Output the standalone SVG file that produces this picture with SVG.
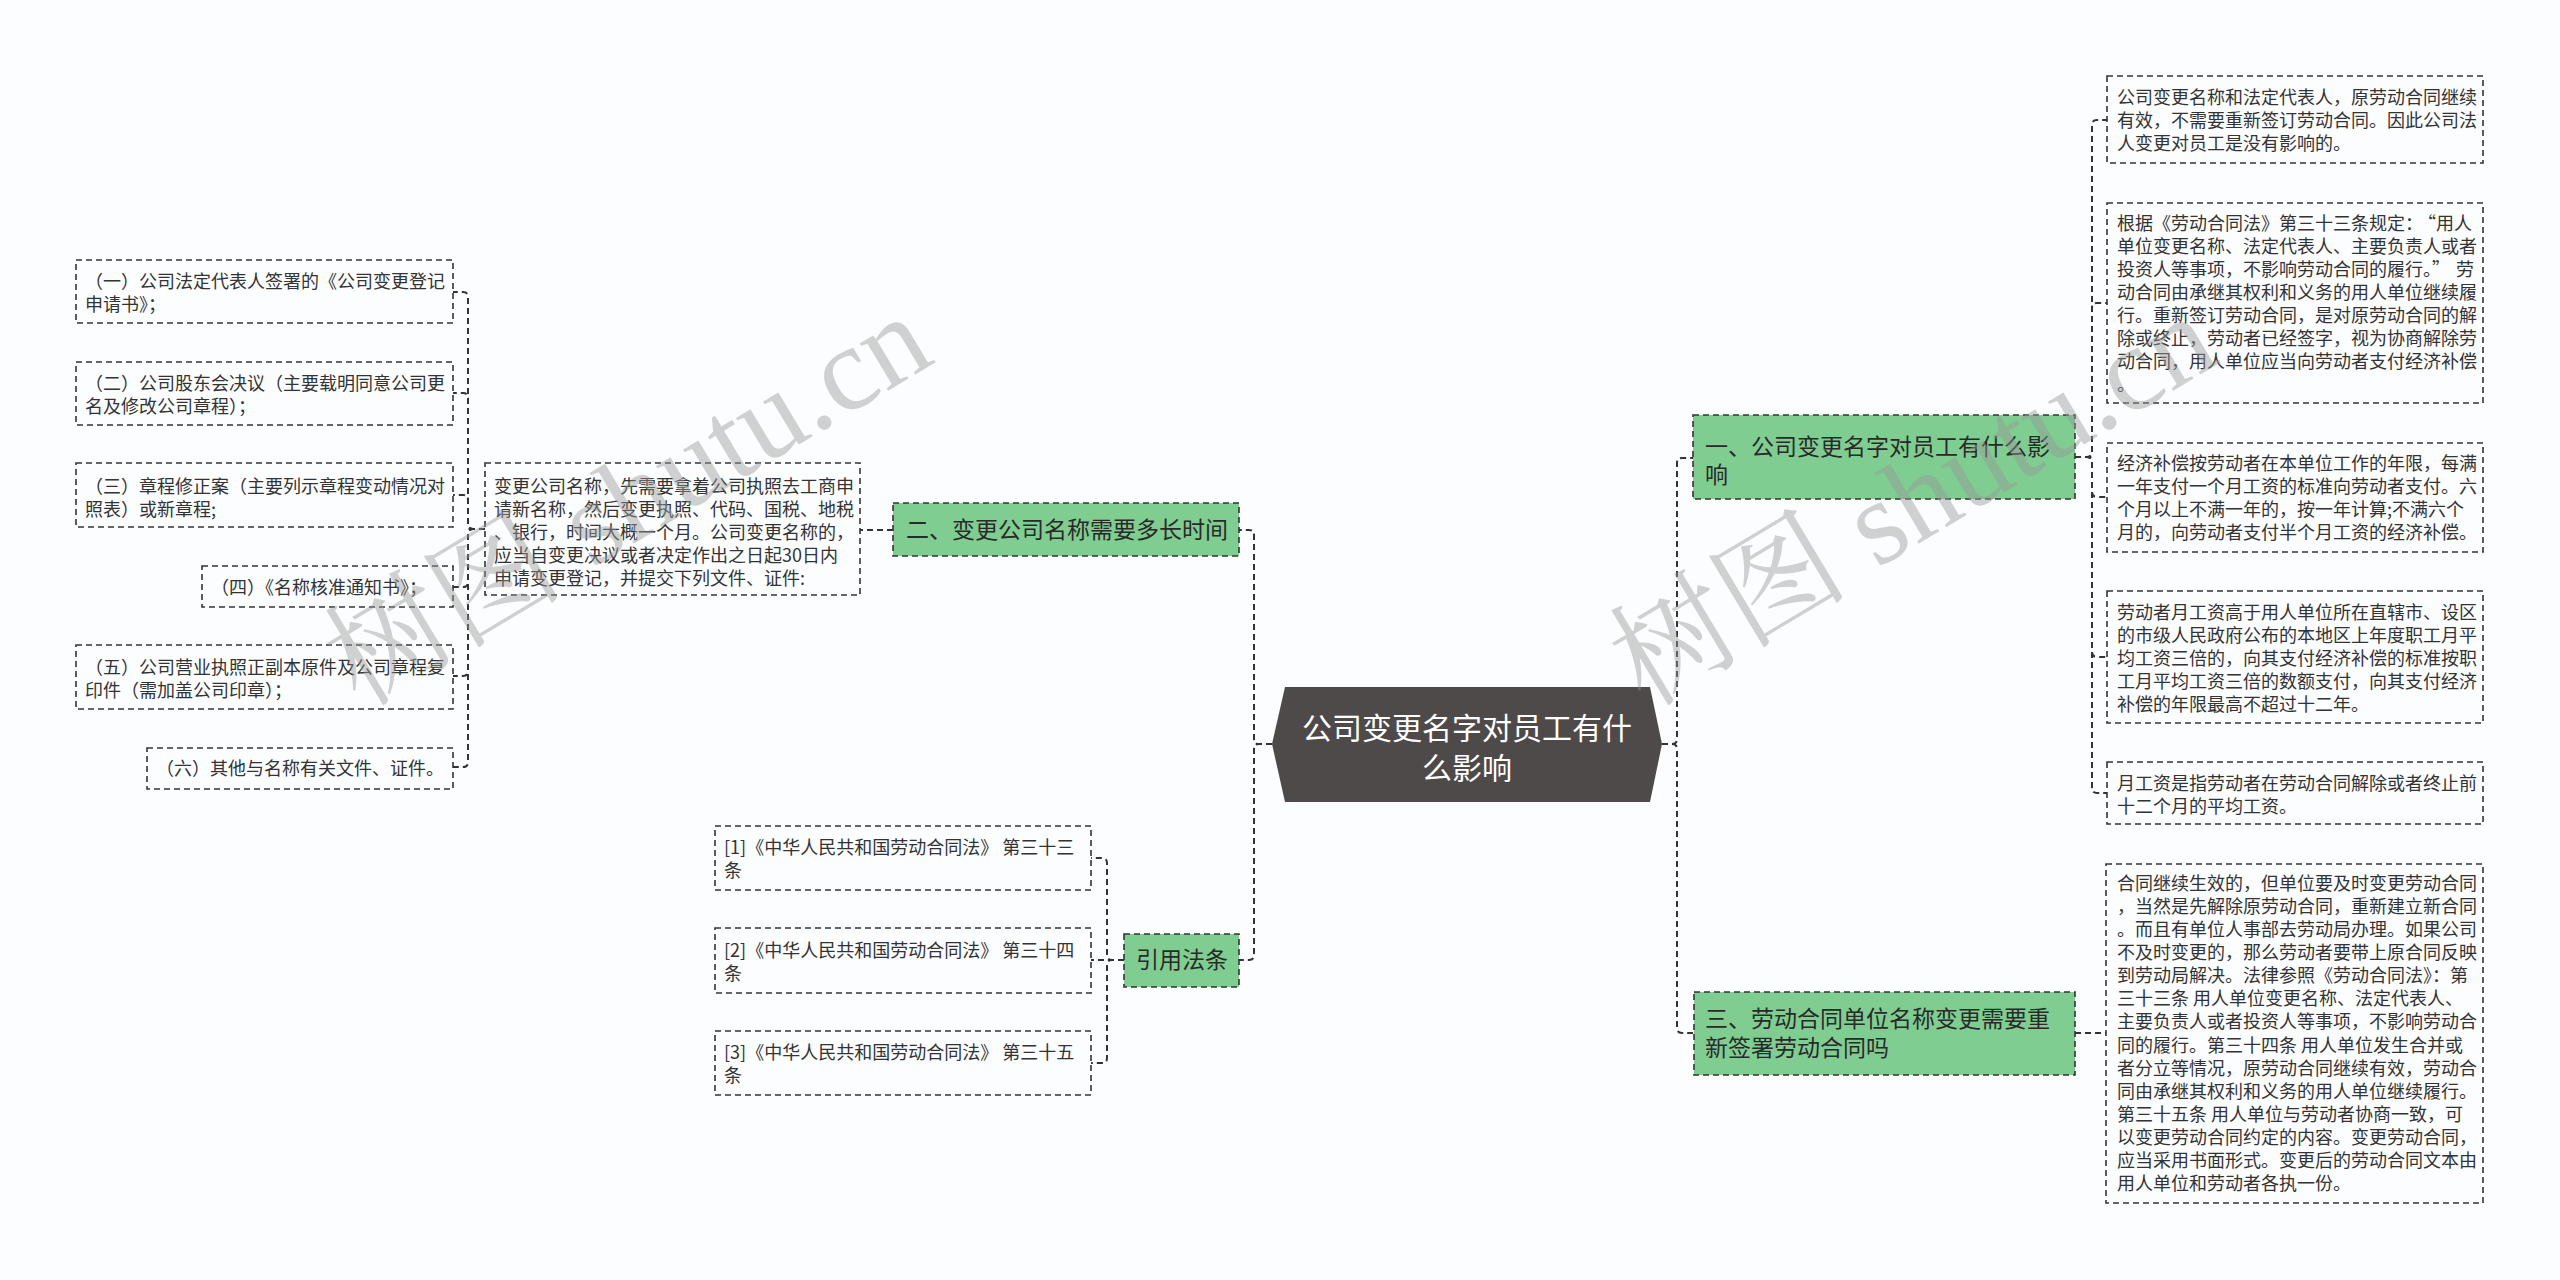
<svg xmlns="http://www.w3.org/2000/svg" width="2560" height="1280" viewBox="0 0 2560 1280">
<style>
text{font-family:"Noto Sans CJK SC","Noto Sans",sans-serif;}
.leaf rect{fill:#fbfdfe;stroke:#333;stroke-width:1.6;stroke-dasharray:6 4;}
.leaf text{font-size:18px;fill:#333;}
.branch rect{fill:#7fcd91;stroke:#333;stroke-width:1.6;stroke-dasharray:6 4;}
.branch text{font-size:23px;fill:#2a2a2a;}
#connectors path{fill:none;stroke:#333;stroke-width:2;stroke-dasharray:6 4;}
.wm{font-family:"Liberation Serif","Noto Serif CJK SC","Noto Sans CJK SC",serif;font-size:120px;fill:#9a9a9a;fill-opacity:0.45;}
</style>
<rect x="0" y="0" width="2560" height="1280" fill="#fbfdfe"/>

<g id="connectors">
<path d="M1662,744 H1672 Q1677,744 1677,739 V463 Q1677,458 1682,458 H1693"/>
<path d="M1662,744 H1672 Q1677,744 1677,749 V1028 Q1677,1033 1682,1033 H1693"/>
<path d="M2075,457 H2087 Q2092,457 2092,452 V125 Q2092,120 2097,120 H2107"/>
<path d="M2075,457 H2087 Q2092,457 2092,452 V308 Q2092,303 2097,303 H2107"/>
<path d="M2075,457 H2087 Q2092,457 2092,462 V492 Q2092,497 2097,497 H2107"/>
<path d="M2075,457 H2087 Q2092,457 2092,462 V652 Q2092,657 2097,657 H2107"/>
<path d="M2075,457 H2087 Q2092,457 2092,462 V788 Q2092,793 2097,793 H2107"/>
<path d="M2075,1033 H2106"/>
<path d="M1272,744 H1259 Q1254,744 1254,739 V535 Q1254,530 1249,530 H1239"/>
<path d="M1272,744 H1259 Q1254,744 1254,749 V955 Q1254,960 1249,960 H1239"/>
<path d="M893,530 H860"/>
<path d="M485,529 H473 Q468,529 468,524 V297 Q468,292 463,292 H453"/>
<path d="M485,529 H473 Q468,529 468,524 V398 Q468,393 463,393 H453"/>
<path d="M485,529 H473 Q468,529 468,524 V500 Q468,495 463,495 H453"/>
<path d="M485,529 H473 Q468,529 468,534 V582 Q468,587 463,587 H453"/>
<path d="M485,529 H473 Q468,529 468,534 V671 Q468,676 463,676 H453"/>
<path d="M485,529 H473 Q468,529 468,534 V762 Q468,767 463,767 H453"/>
<path d="M1124,960 H1112 Q1107,960 1107,955 V863 Q1107,858 1102,858 H1091"/>
<path d="M1124,960 H1091"/>
<path d="M1124,960 H1112 Q1107,960 1107,965 V1058 Q1107,1063 1102,1063 H1091"/>
</g>

<g id="root">
<polygon points="1285,687 1650,687 1662,744 1650,802 1285,802 1272,744" fill="#4f4a4a"/>
<text x="1467" y="739" font-size="30" fill="#ffffff" text-anchor="middle">公司变更名字对员工有什</text>
<text x="1467" y="779" font-size="30" fill="#ffffff" text-anchor="middle">么影响</text>
</g>

<g id="b1" class="branch">
<rect x="1693" y="415" width="382" height="84"/>
<text x="1705" y="455">一、公司变更名字对员工有什么影</text>
<text x="1705" y="483">响</text>
</g>
<g id="b3" class="branch">
<rect x="1694" y="992" width="381" height="83"/>
<text x="1705" y="1027">三、劳动合同单位名称变更需要重</text>
<text x="1705" y="1056">新签署劳动合同吗</text>
</g>
<g id="b2" class="branch">
<rect x="893" y="503" width="346" height="53"/>
<text x="906" y="538">二、变更公司名称需要多长时间</text>
</g>
<g id="b4" class="branch">
<rect x="1124" y="934" width="115" height="53"/>
<text x="1136" y="968">引用法条</text>
</g>

<g id="r1" class="leaf">
<rect x="2107" y="76" width="376" height="87"/>
<text x="2117" y="104">公司变更名称和法定代表人，原劳动合同继续</text>
<text x="2117" y="127">有效，不需要重新签订劳动合同。因此公司法</text>
<text x="2117" y="150">人变更对员工是没有影响的。</text>
</g>
<g id="r2" class="leaf">
<rect x="2107" y="203" width="376" height="200"/>
<text x="2117" y="229.5">根据《劳动合同法》第三十三条规定：<tspan dx="4">“用人</tspan></text>
<text x="2117" y="252.5">单位变更名称、法定代表人、主要负责人或者</text>
<text x="2117" y="275.5">投资人等事项，不影响劳动合同的履行。”<tspan dx="6">劳</tspan></text>
<text x="2117" y="298.5">动合同由承继其权利和义务的用人单位继续履</text>
<text x="2117" y="321.5">行。重新签订劳动合同，是对原劳动合同的解</text>
<text x="2117" y="344.5">除或终止，劳动者已经签字，视为协商解除劳</text>
<text x="2117" y="367.5">动合同，用人单位应当向劳动者支付经济补偿</text>
<text x="2117" y="391">。</text>
</g>
<g id="r3" class="leaf">
<rect x="2107" y="443" width="376" height="109"/>
<text x="2117" y="469.5">经济补偿按劳动者在本单位工作的年限，每满</text>
<text x="2117" y="492.5">一年支付一个月工资的标准向劳动者支付。六</text>
<text x="2117" y="515.5">个月以上不满一年的，按一年计算;不满六个</text>
<text x="2117" y="538.5">月的，向劳动者支付半个月工资的经济补偿。</text>
</g>
<g id="r4" class="leaf">
<rect x="2107" y="591" width="376" height="132"/>
<text x="2117" y="618.5">劳动者月工资高于用人单位所在直辖市、设区</text>
<text x="2117" y="641.5">的市级人民政府公布的本地区上年度职工月平</text>
<text x="2117" y="664.5">均工资三倍的，向其支付经济补偿的标准按职</text>
<text x="2117" y="687.5">工月平均工资三倍的数额支付，向其支付经济</text>
<text x="2117" y="710.5">补偿的年限最高不超过十二年。</text>
</g>
<g id="r5" class="leaf">
<rect x="2107" y="762" width="376" height="62"/>
<text x="2117" y="789.5">月工资是指劳动者在劳动合同解除或者终止前</text>
<text x="2117" y="812.5">十二个月的平均工资。</text>
</g>
<g id="r6" class="leaf">
<rect x="2106" y="864" width="377" height="339"/>
<text x="2117" y="889.5">合同继续生效的，但单位要及时变更劳动合同</text>
<text x="2117" y="912.6">，当然是先解除原劳动合同，重新建立新合同</text>
<text x="2117" y="935.8">。而且有单位人事部去劳动局办理。如果公司</text>
<text x="2117" y="958.9">不及时变更的，那么劳动者要带上原合同反映</text>
<text x="2117" y="982.1">到劳动局解决。法律参照《劳动合同法》：第</text>
<text x="2117" y="1005.2">三十三条 用人单位变更名称、法定代表人、</text>
<text x="2117" y="1028.4">主要负责人或者投资人等事项，不影响劳动合</text>
<text x="2117" y="1051.5">同的履行。第三十四条 用人单位发生合并或</text>
<text x="2117" y="1074.7">者分立等情况，原劳动合同继续有效，劳动合</text>
<text x="2117" y="1097.8">同由承继其权利和义务的用人单位继续履行。</text>
<text x="2117" y="1121">第三十五条 用人单位与劳动者协商一致，可</text>
<text x="2117" y="1144.1">以变更劳动合同约定的内容。变更劳动合同，</text>
<text x="2117" y="1167.3">应当采用书面形式。变更后的劳动合同文本由</text>
<text x="2117" y="1190.4">用人单位和劳动者各执一份。</text>
</g>

<g id="l0" class="leaf">
<rect x="485" y="463" width="375" height="132"/>
<text x="494" y="493">变更公司名称，先需要拿着公司执照去工商申</text>
<text x="494" y="516">请新名称，然后变更执照、代码、国税、地税</text>
<text x="494" y="539">、银行，时间大概一个月。公司变更名称的，</text>
<text x="494" y="562">应当自变更决议或者决定作出之日起30日内</text>
<text x="494" y="585">申请变更登记，并提交下列文件、证件:</text>
</g>
<g id="l1" class="leaf">
<rect x="76" y="260" width="377" height="63"/>
<text x="85" y="288">（一）公司法定代表人签署的《公司变更登记</text>
<text x="85" y="311">申请书》；</text>
</g>
<g id="l2" class="leaf">
<rect x="76" y="362" width="377" height="63"/>
<text x="85" y="390">（二）公司股东会决议（主要载明同意公司更</text>
<text x="85" y="413">名及修改公司章程）；</text>
</g>
<g id="l3" class="leaf">
<rect x="76" y="463" width="377" height="64"/>
<text x="85" y="493">（三）章程修正案（主要列示章程变动情况对</text>
<text x="85" y="516">照表）或新章程;</text>
</g>
<g id="l4" class="leaf">
<rect x="202" y="566" width="251" height="41"/>
<text x="211" y="594">（四）《名称核准通知书》；</text>
</g>
<g id="l5" class="leaf">
<rect x="76" y="645" width="377" height="64"/>
<text x="85" y="674">（五）公司营业执照正副本原件及公司章程复</text>
<text x="85" y="697">印件（需加盖公司印章）；</text>
</g>
<g id="l6" class="leaf">
<rect x="147" y="748" width="306" height="41"/>
<text x="156" y="775">（六）其他与名称有关文件、证件。</text>
</g>

<g id="f1" class="leaf">
<rect x="715" y="826" width="376" height="64"/>
<text x="724" y="853.5">[1]《中华人民共和国劳动合同法》 第三十三</text>
<text x="724" y="877">条</text>
</g>
<g id="f2" class="leaf">
<rect x="715" y="928" width="376" height="65"/>
<text x="724" y="956.5">[2]《中华人民共和国劳动合同法》 第三十四</text>
<text x="724" y="980">条</text>
</g>
<g id="f3" class="leaf">
<rect x="715" y="1031" width="376" height="64"/>
<text x="724" y="1058.5">[3]《中华人民共和国劳动合同法》 第三十五</text>
<text x="724" y="1082">条</text>
</g>

<text class="wm" transform="translate(360,708) rotate(-31)">树图 shutu.cn</text>
<text class="wm" transform="translate(1645,708) rotate(-31)">树图 shutu.cn</text>
</svg>
